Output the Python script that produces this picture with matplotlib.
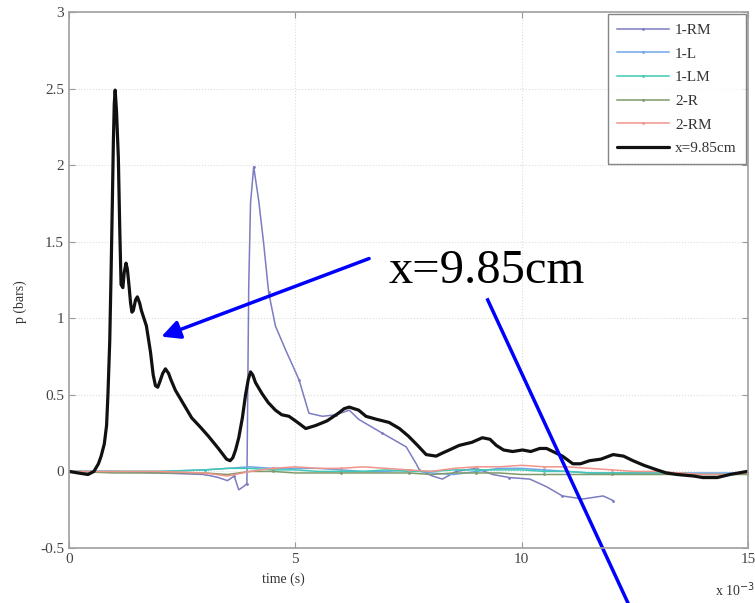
import matplotlib
matplotlib.use("Agg")
import matplotlib.pyplot as plt
import numpy as np

plt.rcParams['font.family'] = ['Liberation Serif', 'DejaVu Serif']

# ---- data (time in units of 1e-3 s, pressure in bars) ----
t_main = [0, 0.2, 0.42, 0.55, 0.65, 0.71, 0.78, 0.83, 0.86, 0.9, 0.93, 0.96, 0.98, 1.0, 1.02, 1.05, 1.09,
          1.12, 1.15, 1.19, 1.22, 1.26, 1.29, 1.33, 1.36, 1.39, 1.42,
          1.47, 1.51, 1.56, 1.6, 1.71, 1.8, 1.86, 1.91, 1.96, 2.0, 2.07, 2.13, 2.2, 2.25, 2.35, 2.55, 2.71, 2.9,
          3.08, 3.3, 3.48, 3.56, 3.62, 3.68,
          3.75, 3.83, 3.9, 3.96, 4.01, 4.06, 4.12, 4.26, 4.4, 4.56, 4.7, 4.86, 5.05, 5.23, 5.45, 5.7, 5.95,
          6.08, 6.19, 6.4,
          6.56, 6.8, 7.07, 7.3, 7.5, 7.7, 7.89, 8.11, 8.25, 8.4, 8.62, 8.9, 9.13, 9.3, 9.44, 9.6, 9.8,
          10.02, 10.2, 10.4, 10.55, 10.69, 10.9, 11.13, 11.3, 11.5, 11.75, 12.02, 12.25, 12.46, 12.7,
          12.99, 13.2, 13.43, 13.8, 14.0, 14.32, 14.6, 14.98]
p_main = [0.0, -0.01, -0.02, 0.0, 0.05, 0.1, 0.18, 0.3, 0.5, 0.85, 1.3, 1.8, 2.15, 2.4, 2.49, 2.35, 2.05,
          1.6, 1.22, 1.2, 1.3, 1.36, 1.32, 1.2, 1.1, 1.04, 1.05,
          1.12, 1.14, 1.1, 1.05, 0.95, 0.78, 0.63, 0.56, 0.55, 0.58, 0.64, 0.67, 0.64, 0.6, 0.53, 0.43, 0.35, 0.29,
          0.23, 0.15, 0.08, 0.07, 0.09, 0.14,
          0.22, 0.35, 0.5, 0.6, 0.65, 0.63, 0.58, 0.51, 0.45, 0.40, 0.37, 0.36, 0.32, 0.28, 0.3, 0.33, 0.38,
          0.41, 0.42, 0.4,
          0.36, 0.34, 0.32, 0.28, 0.23, 0.17, 0.11, 0.10, 0.12, 0.14, 0.17, 0.19, 0.22, 0.21, 0.17,
          0.14, 0.13, 0.14, 0.13, 0.15, 0.15, 0.13, 0.10, 0.05, 0.05, 0.07, 0.08, 0.11, 0.10, 0.07,
          0.04, 0.01, -0.01, -0.02, -0.03, -0.04, -0.04, -0.02, 0.0]

t_1RM = [0, 1, 2, 3, 3.3, 3.5, 3.65, 3.75, 3.85, 3.93, 3.97, 4.01, 4.08, 4.19, 4.3, 4.41, 4.56,
         4.79, 5.08, 5.3, 5.6, 5.9, 6.19, 6.4, 6.92, 7.45, 7.67, 7.74, 8.03, 8.25, 8.55, 9.0, 9.36,
         9.73, 10.18, 10.55, 10.9, 11.35, 11.8, 12.02]
p_1RM = [0.0, 0.0, -0.01, -0.02, -0.04, -0.06, -0.03, -0.12, -0.1, -0.08, 1.2, 1.75, 1.99, 1.77,
         1.49, 1.17, 0.95, 0.79, 0.6, 0.38, 0.36, 0.37, 0.40, 0.34, 0.25, 0.16, 0.05, 0.01, -0.03,
         -0.05, 0.0, 0.02, -0.02, -0.04, -0.05, -0.1, -0.16, -0.18, -0.16, -0.19]

t_small = [0, 1, 2, 3, 3.5, 4, 4.5, 5, 5.5, 6, 6.5, 7, 7.5, 8, 8.5, 9, 9.5, 10, 10.5, 11, 11.5,
           12, 12.5, 13, 13.5, 14, 14.5, 15]
p_1L = [0.0, 0.0, 0.0, 0.01, 0.02, 0.03, 0.02, 0.02, 0.02, 0.01, 0.0, 0.0, 0.01, -0.01, -0.02,
        0.0, 0.02, 0.02, 0.01, 0.0, -0.01, -0.01, -0.01, -0.01, -0.01, -0.01, -0.01, -0.01]
p_1LM = [0.0, 0.0, 0.0, 0.01, 0.02, 0.02, 0.01, 0.01, 0.0, 0.0, 0.0, 0.01, 0.0, 0.0, 0.01, 0.01,
         0.01, 0.01, 0.0, 0.0, -0.01, -0.01, -0.01, -0.01, -0.01, -0.02, -0.02, -0.01]
p_2R = [0.0, -0.01, -0.01, -0.01, -0.02, 0.0, 0.0, -0.01, -0.01, -0.01, -0.01, -0.01, -0.01,
        -0.02, -0.01, -0.01, -0.01, -0.02, -0.02, -0.02, -0.02, -0.02, -0.02, -0.02, -0.02, -0.02,
        -0.02, -0.02]
p_2RM = [0.0, 0.0, 0.0, -0.01, -0.03, 0.0, 0.02, 0.03, 0.02, 0.02, 0.03, 0.02, 0.01, 0.0, 0.02,
         0.03, 0.03, 0.04, 0.03, 0.03, 0.02, 0.01, 0.0, 0.0, -0.01, -0.02, -0.02, -0.01]

labels = ['1-RM', '1-L', '1-LM', '2-R', '2-RM', 'x=9.85cm']
colors = ['#7c7cc0', '#6fa5e6', '#3fc9b5', '#7f9a6a', '#f0958a', '#111111']
xticks = [0, 5, 10, 15]
yticks = [-0.5, 0, 0.5, 1, 1.5, 2, 2.5, 3]

fig = plt.figure(figsize=(7.55, 6.03), dpi=100)
ax = fig.add_axes([69/755, 1-548/603, (748-69)/755, (548-12)/603])

small = [(t_1RM, p_1RM), (t_small, p_1L), (t_small, p_1LM), (t_small, p_2R), (t_small, p_2RM)]
for (tt, pp), lab, col in zip(small, labels[:5], colors[:5]):
    ax.plot(tt, pp, color=col, lw=1.1, marker='.', ms=2, markevery=3, label=lab,
            solid_joinstyle='round')
ax.plot(t_main, p_main, color=colors[5], lw=2.3, label=labels[5],
        solid_joinstyle='round', solid_capstyle='round')

ax.set_xlim(0, 15)
ax.set_ylim(-0.5, 3)
ax.set_xticks(xticks)
ax.set_yticks(yticks)
ax.set_xticklabels([str(v) for v in xticks])
ax.set_yticklabels(['-0.5', '0', '0.5', '1', '1.5', '2', '2.5', '3'])
ax.tick_params(direction='in', length=4, colors='#999999', labelcolor='#444444', labelsize=11,
               top=True, right=True)
ax.grid(True, color='#dddddd', linestyle=':', lw=0.8)
for s in ax.spines.values():
    s.set_color('#a0a0a0')
    s.set_linewidth(1.2)

ax.set_xlabel('time (s)', fontsize=10, color='#333333')
ax.xaxis.set_label_coords(0.315, -0.045)
ax.set_ylabel('p (bars)', fontsize=10, color='#333333')
ax.yaxis.set_label_coords(-0.062, 0.46)
fig.text(735/755, 1-590/603, r'x 10$^{-3}$', fontsize=10, color='#333333', ha='center', va='center')

leg = ax.legend(loc='upper right', fontsize=11, frameon=True, fancybox=False,
                borderpad=0.6, handlelength=3.4, handletextpad=0.4, labelspacing=0.65,
                borderaxespad=0.15)
leg.get_frame().set_edgecolor('#666666')
leg.get_frame().set_linewidth(1.0)
for txt in leg.get_texts():
    txt.set_color('#333333')

# annotation text and blue pointer lines
ax.text(7.07, 1.23, 'x=9.85cm', fontsize=35, color='black', ha='left', va='baseline')
ax.annotate('', xy=(2.04, 0.88), xytext=(6.63, 1.39),
            arrowprops=dict(arrowstyle='-|>', color='#0000ff', lw=2.5, mutation_scale=28,
                            shrinkA=0, shrinkB=0))
ax.plot([9.25, 12.35], [1.12, -0.86], color='#0000ff', lw=2.5, clip_on=False)

fig.savefig('out.png', dpi=100)
